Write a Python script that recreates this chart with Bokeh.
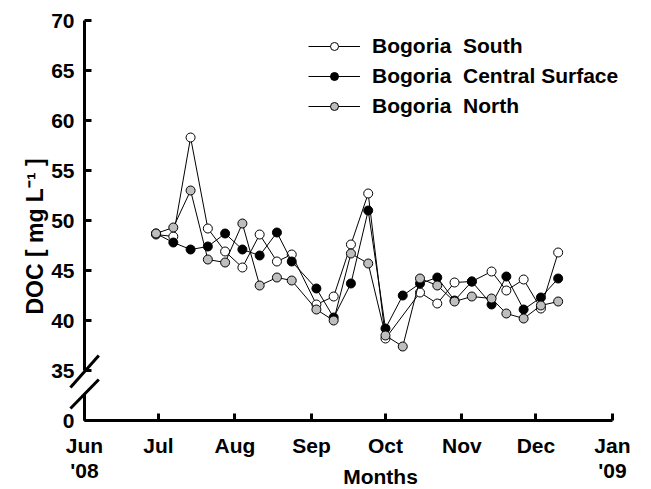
import math
import pandas as pd
from bokeh.plotting import figure
from bokeh.models import (ColumnDataSource, FixedTicker, Legend, LegendItem,
                          Label, Range1d)
from bokeh.embed import file_html
from bokeh.resources import INLINE

# ---------------- data ----------------
dates = ["2008-06-30", "2008-07-07", "2008-07-14", "2008-07-21", "2008-07-28",
         "2008-08-04", "2008-08-11", "2008-08-18", "2008-08-24", "2008-09-03",
         "2008-09-10", "2008-09-17", "2008-09-24", "2008-10-01", "2008-10-08",
         "2008-10-15", "2008-10-22", "2008-10-29", "2008-11-05", "2008-11-13",
         "2008-11-19", "2008-11-26", "2008-12-03", "2008-12-10"]
south = [48.6, 48.4, 58.3, 49.2, 46.9, 45.3, 48.6, 45.9, 46.6, 41.6, 42.4, 47.6,
         52.7, 38.2, None, 42.8, 41.7, 43.8, 43.9, 44.9, 43.0, 44.1, 41.2, 46.8]
central = [48.7, 47.8, 47.1, 47.4, 48.7, 47.1, 46.5, 48.8, 45.9, 43.2, 40.3, 43.7,
           51.0, 39.2, 42.5, 43.7, 44.3, 42.0, 43.9, 41.6, 44.4, 41.1, 42.3, 44.2]
north = [48.7, 49.3, 53.0, 46.1, 45.8, 49.7, 43.5, 44.3, 44.0, 41.1, 40.0, 46.7,
         45.7, 38.5, 37.4, 44.2, 43.5, 41.9, 42.4, 42.2, 40.7, 40.2, 41.5, 41.9]

series_names = ["Bogoria  South", "Bogoria  Central Surface", "Bogoria  North"]
series_fill = ["white", "black", "#bebebe"]

month_starts = ["2008-06-01", "2008-07-01", "2008-08-01", "2008-09-01",
                "2008-10-01", "2008-11-01", "2008-12-01", "2009-01-01"]
month_labels = ["Jun\n'08", "Jul", "Aug", "Sep", "Oct", "Nov", "Dec", "Jan\n'09"]

y_ticks = [30, 35, 40, 45, 50, 55, 60, 65, 70]
y_labels = ["0", "35", "40", "45", "50", "55", "60", "65", "70"]
Y_ZERO = 30          # plotting position of the "0" tick (axis break below 35)

# ---------------- layout constants ----------------
W, H = 651, 489
PX_PER_DAY = 2.467   # horizontal scale
PX_PER_UNIT = 10.0   # vertical scale
ORIGIN_PX = (84, 420)  # where (Jun 1, "0") sits on the canvas

def ms(d):
    return pd.Timestamp(d).timestamp() * 1000.0

DAY = 86400000.0
x_ms = [ms(d) for d in dates]
month_ms = [ms(d) for d in month_starts]
x0 = month_ms[0]

x_start = x0 - ORIGIN_PX[0] / PX_PER_DAY * DAY
x_end = x_start + W / PX_PER_DAY * DAY
y_top = Y_ZERO + ORIGIN_PX[1] / PX_PER_UNIT
y_bottom = Y_ZERO - (H - ORIGIN_PX[1]) / PX_PER_UNIT

FONT = "Liberation Sans"
FS = "21px"

p = figure(width=W, height=H, output_backend="svg", toolbar_location=None,
           x_axis_type="datetime",
           x_range=Range1d(x_start, x_end), y_range=Range1d(y_bottom, y_top),
           min_border=0)
p.outline_line_color = None
p.grid.visible = False
p.background_fill_color = "white"
p.border_fill_color = "white"

# x axis (placed inside the frame at the "0" level)
xa = p.xaxis[0]
xa.fixed_location = Y_ZERO
xa.bounds = (month_ms[0], month_ms[-1])
xa.ticker = FixedTicker(ticks=month_ms)
xa.major_label_overrides = {t: l for t, l in zip(month_ms, month_labels)}
xa.minor_tick_line_color = None
xa.major_tick_in = 7
xa.major_tick_out = 0
xa.major_tick_line_width = 3
xa.axis_line_width = 3
xa.major_label_standoff = 13
xa.major_label_text_font = FONT
xa.major_label_text_font_style = "bold"
xa.major_label_text_font_size = FS
xa.major_label_text_line_height = 1.12
xa.major_label_text_color = "black"

# y axis (placed at Jun 1)
ya = p.yaxis[0]
ya.fixed_location = x0
ya.bounds = (Y_ZERO, 70)
ya.ticker = FixedTicker(ticks=y_ticks)
ya.major_label_overrides = {t: l for t, l in zip(y_ticks, y_labels)}
ya.minor_tick_line_color = None
ya.major_tick_in = 7
ya.major_tick_out = 0
ya.major_tick_line_width = 3
ya.axis_line_color = None
ya.major_label_standoff = 10
ya.major_label_text_font = FONT
ya.major_label_text_font_style = "bold"
ya.major_label_text_font_size = FS
ya.major_label_text_color = "black"

# y axis line with a break, and the break marks
axis_src = ColumnDataSource(dict(x0=[x0, x0], y0=[Y_ZERO, 35.0],
                                 x1=[x0, x0], y1=[32.7, 70]))
p.segment("x0", "y0", "x1", "y1", source=axis_src, line_width=3, line_color="black")
brk_src = ColumnDataSource(dict(x0=[x0 - 5.7 * DAY] * 2, y0=[33.3, 31.2],
                                x1=[x0 + 5.8 * DAY] * 2, y1=[36.5, 34.1]))
p.segment("x0", "y0", "x1", "y1", source=brk_src, line_width=3, line_color="black")

# series
legend_items = []
nan = float("nan")
for name, vals, fill in zip(series_names, [south, central, north], series_fill):
    xs = [x for x, v in zip(x_ms, vals) if v is not None]
    vs = [v for v in vals if v is not None]
    src = ColumnDataSource(dict(x=xs, y=vs))
    p.line("x", "y", source=src, line_color="black", line_width=1)
    p.scatter("x", "y", source=src, size=9, marker="circle", fill_color=fill,
              line_color="black", line_width=1)
    dl = p.line(x=[nan], y=[nan], line_color="black", line_width=1)
    ds = p.scatter(x=[nan], y=[nan], size=7, marker="circle", fill_color=fill,
                   line_color="black", line_width=1)
    legend_items.append(LegendItem(label=name, renderers=[dl, ds]))

legend = Legend(items=legend_items, location=(308, 371),
                glyph_width=52, glyph_height=20, label_height=20, spacing=6,
                label_standoff=12, padding=0, margin=0,
                border_line_color=None, background_fill_alpha=0,
                label_text_font=FONT, label_text_font_style="bold",
                label_text_font_size=FS, label_text_color="black")
p.add_layout(legend)

# axis titles
p.add_layout(Label(x=x0 - 19.9 * DAY, y=48.4, text="DOC [ mg L\u207b\u00b9 ]",
                   angle=math.pi / 2, text_align="center", text_baseline="middle",
                   text_font=FONT, text_font_style="bold", text_font_size="23px",
                   text_color="black"))
p.add_layout(Label(x=x0 + 120 * DAY, y=Y_ZERO - 5.6, text="Months",
                   text_align="center", text_baseline="middle",
                   text_font=FONT, text_font_style="bold", text_font_size=FS,
                   text_color="black"))

open("out.html", "w").write(file_html(p, INLINE))
